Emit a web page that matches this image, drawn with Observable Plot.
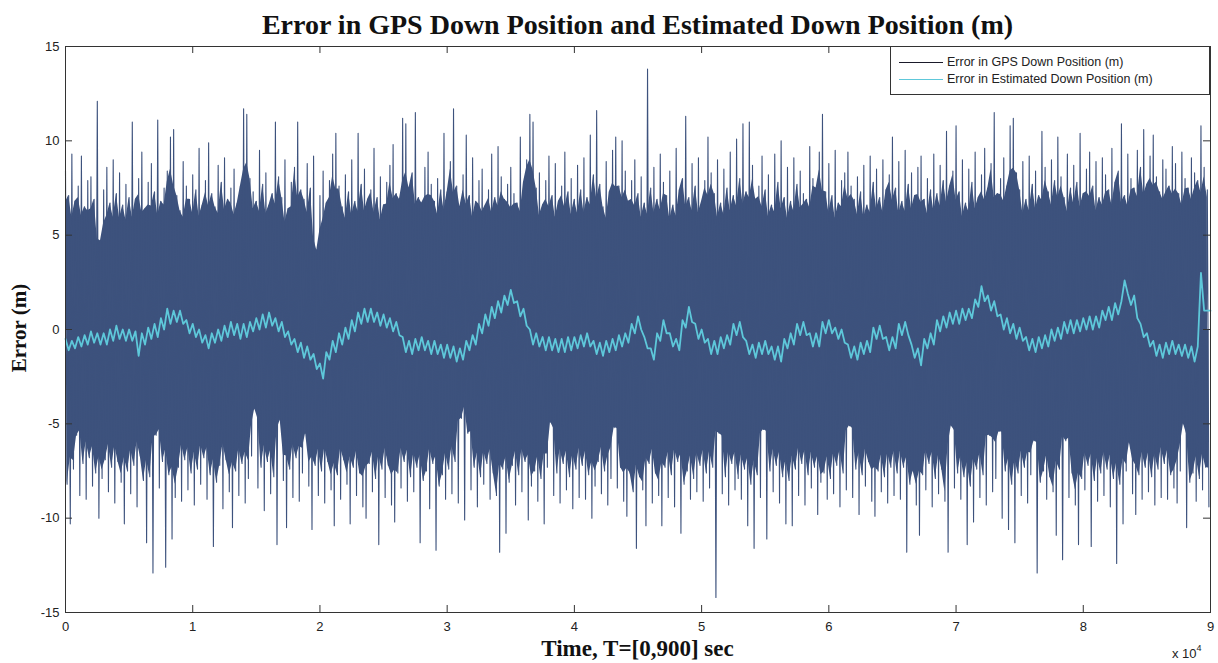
<!DOCTYPE html>
<html><head><meta charset="utf-8">
<script src="https://cdn.jsdelivr.net/npm/d3@7"></script>
<script src="https://cdn.jsdelivr.net/npm/@observablehq/plot@0.6"></script>
<style>
body{margin:0;background:#fff;}
#wrap{position:relative;width:1218px;height:663px;overflow:hidden;background:#fff;}
#wrap svg{position:absolute;left:0;top:0;}
.title{position:absolute;left:65px;width:1145px;top:9px;line-height:1;text-align:center;font:bold 28px "Liberation Serif","Times New Roman",serif;color:#111;white-space:nowrap;}
.xlab{position:absolute;left:65px;width:1145px;top:636px;line-height:1;text-align:center;font:bold 23px "Liberation Serif","Times New Roman",serif;color:#111;white-space:nowrap;}
.ylab{position:absolute;left:19px;top:328px;line-height:1;transform:translate(-50%,-50%) rotate(-90deg);font:bold 21px "Liberation Serif","Times New Roman",serif;white-space:nowrap;color:#111;}
.exp{position:absolute;left:1172px;top:645px;line-height:1;font:13px "Liberation Sans",Arial,sans-serif;color:#222;white-space:nowrap;}
.exp sup{font-size:9px;position:relative;top:-2px;}
.legend{position:absolute;left:890px;top:46px;width:320px;height:49px;border:1px solid #333;background:#fff;box-sizing:border-box;font:12.5px "Liberation Sans",Arial,sans-serif;color:#222;}
.legend .row{position:absolute;left:8px;height:14px;line-height:14px;white-space:nowrap;}
.legend .ln{display:inline-block;width:44px;height:0;border-top-width:1.5px;border-top-style:solid;vertical-align:middle;margin-right:4px;}
</style></head>
<body>
<div id="wrap"></div>
<script>
// ---- data ----
const xTicks = [0, 10000, 20000, 30000, 40000, 50000, 60000, 70000, 80000, 90000];
const yTicks = [-15, -10, -5, 0, 5, 10, 15];
const seriesNames = ["Error in GPS Down Position (m)", "Error in Estimated Down Position (m)"];
const titleText = "Error in GPS Down Position and Estimated Down Position (m)";
const xLabel = "Time, T=[0,900] sec";
const yLabel = "Error (m)";
const windowStep = 250; // samples per envelope window

// GPS error: local maxima per 250-sample window
const gpsHigh = [
 8.4,7.1,9.3,6.8,7.6,9.2,6.5,7.9,8.1,6.9,12.1,4.7,7.4,8.6,6.7,9.0,7.2,8.3,6.6,7.7,
 7.0,11.0,6.9,8.0,9.4,6.4,7.8,8.8,7.3,11.1,6.8,7.5,8.4,10.2,10.6,7.1,6.3,8.9,7.6,6.9,
 8.2,7.4,9.6,6.6,7.9,9.9,7.2,6.5,8.7,7.8,9.1,6.9,7.5,8.5,6.7,7.6,11.7,11.4,8.0,7.3,
 6.8,9.5,7.7,8.3,6.6,7.2,11.0,8.1,7.0,9.0,6.4,7.8,8.6,11.0,7.4,6.9,8.8,7.5,9.2,4.2,
 7.1,8.4,6.7,7.9,9.3,10.4,7.6,6.5,8.2,7.3,9.0,6.8,10.4,7.7,8.5,6.9,7.4,9.6,7.0,8.1,
 6.6,7.8,8.7,9.8,7.2,6.9,11.2,10.9,7.5,8.3,11.5,7.0,6.7,8.6,9.4,7.7,6.8,8.0,7.4,10.4,
 7.3,8.9,11.7,7.6,6.5,8.2,10.3,7.1,9.1,6.8,7.9,8.5,6.6,7.4,9.3,7.0,9.7,8.1,6.9,7.7,
 8.6,7.2,6.7,10.2,7.8,9.0,11.4,11.0,7.5,8.3,6.6,7.9,9.2,7.1,8.8,6.8,7.6,9.4,7.3,8.0,
 6.9,8.7,7.4,9.1,7.0,10.3,8.2,11.6,7.7,6.5,8.9,7.3,9.5,10.2,7.6,10.0,8.4,6.8,7.9,9.0,
 7.2,8.1,6.7,13.8,7.5,8.6,6.9,9.3,7.8,7.1,8.4,6.6,9.6,7.4,8.0,11.3,7.0,8.8,7.6,9.1,
 6.8,7.9,10.2,8.3,7.2,9.0,6.7,8.5,7.5,9.4,7.1,10.1,8.0,10.9,7.3,11.0,8.7,6.9,7.6,9.2,
 7.4,8.2,6.6,9.3,7.8,10.0,7.0,8.6,6.8,9.1,7.7,8.4,7.2,6.9,9.7,8.0,7.5,9.4,11.4,7.3,
 8.8,7.1,9.5,6.7,7.9,8.3,9.4,7.6,6.9,8.1,7.3,8.7,6.6,9.2,7.8,8.5,7.0,9.0,7.4,8.2,
 10.2,7.5,8.9,6.8,9.5,7.7,8.3,7.1,8.6,9.2,6.9,8.0,7.4,9.3,7.2,8.7,7.9,10.5,7.6,8.4,
 10.8,7.3,9.0,6.7,8.5,7.8,9.4,7.0,8.2,9.6,7.5,8.8,11.5,7.2,8.0,9.1,7.6,10.8,11.2,8.3,
 7.4,8.9,6.9,9.2,7.7,8.4,7.1,10.5,8.6,7.3,9.0,7.9,10.2,8.1,7.0,9.3,7.5,8.7,7.8,10.4,
 7.2,8.5,9.4,7.6,8.9,7.0,9.1,8.2,7.4,9.6,7.8,8.4,10.9,7.1,9.3,8.0,7.5,9.5,8.6,10.6,
 7.7,9.2,10.3,8.1,7.3,9.0,8.5,7.6,9.7,8.8,7.2,9.4,8.0,7.5,9.1,8.3,7.9,10.8,8.6,7.4
];
// GPS error: local minima per 250-sample window
const gpsLow = [
 -8.2,-10.3,-7.4,-5.6,-8.8,-7.1,-9.0,-6.8,-8.3,-7.6,-10.0,-7.9,-6.9,-8.6,-7.3,-9.2,-7.0,-8.1,-10.3,-7.5,
 -8.7,-7.2,-9.4,-6.7,-8.0,-11.3,-7.8,-12.9,-5.6,-8.4,-7.0,-12.6,-7.7,-11.1,-8.9,-7.3,-9.1,-6.9,-8.5,-7.6,
 -9.3,-7.4,-8.2,-6.8,-9.0,-7.7,-11.5,-8.1,-7.2,-9.5,-6.9,-8.6,-10.5,-7.5,-8.8,-7.1,-9.2,-7.9,-6.7,-4.2,
 -8.4,-7.3,-9.6,-7.0,-8.7,-7.8,-11.4,-4.8,-8.0,-10.5,-7.4,-8.9,-6.8,-9.1,-7.6,-5.5,-8.3,-10.6,-7.2,-8.8,
 -7.5,-9.2,-7.0,-8.5,-10.4,-7.7,-9.0,-6.9,-8.2,-10.3,-7.3,-8.8,-7.6,-9.4,-10.0,-7.1,-8.6,-7.9,-11.4,-7.4,
 -8.9,-7.2,-9.3,-10.2,-7.6,-8.4,-7.0,-9.1,-7.8,-8.6,-7.3,-11.3,-8.0,-7.5,-9.5,-7.1,-11.7,-8.3,-7.7,-9.0,
 -7.4,-8.7,-7.0,-9.2,-4.7,-10.1,-5.5,-8.5,-7.3,-9.4,-7.8,-8.2,-7.1,-9.0,-7.6,-8.8,-11.8,-7.4,-10.8,-8.1,
 -7.2,-9.3,-7.7,-8.6,-7.0,-10.1,-8.3,-7.5,-9.1,-7.9,-10.3,-7.3,-4.9,-8.8,-7.6,-9.2,-7.1,-8.5,-7.8,-9.5,
 -7.4,-8.9,-7.2,-9.0,-7.7,-10.0,-8.3,-7.0,-8.7,-7.5,-9.3,-7.9,-5.2,-8.4,-7.3,-9.1,-9.9,-7.6,-8.6,-11.6,
 -7.8,-8.5,-10.4,-7.1,-9.2,-7.6,-8.8,-10.4,-7.3,-8.9,-7.7,-9.4,-7.0,-10.8,-8.2,-7.5,-9.0,-7.9,-8.6,-7.2,
 -9.1,-7.6,-8.4,-7.3,-14.2,-5.5,-8.7,-7.8,-9.3,-7.1,-8.5,-7.9,-9.0,-7.4,-10.4,-8.2,-11.6,-7.7,-8.9,-5.3,
 -11.1,-7.5,-8.6,-7.2,-9.2,-7.8,-10.3,-8.0,-10.4,-7.4,-8.8,-7.1,-9.3,-7.7,-8.4,-7.3,-9.8,-8.1,-7.6,-9.0,
 -7.9,-8.7,-7.2,-9.4,-7.6,-8.5,-5.1,-8.9,-7.4,-9.8,-7.7,-8.3,-7.0,-9.1,-9.9,-7.5,-8.6,-7.8,-9.2,-7.3,
 -8.8,-7.6,-9.0,-7.3,-11.8,-8.2,-7.5,-9.3,-10.9,-7.7,-8.5,-7.1,-9.4,-7.9,-8.7,-7.4,-9.1,-11.8,-5.1,-8.4,
 -7.6,-9.0,-7.8,-11.4,-8.3,-10.2,-7.4,-8.9,-7.7,-9.3,-5.6,-8.6,-7.9,-5.4,-10.0,-7.5,-10.6,-8.2,-11.3,-7.6,
 -8.8,-7.3,-9.2,-7.7,-5.9,-12.9,-8.1,-7.5,-9.0,-7.8,-8.6,-10.9,-7.4,-12.2,-5.9,-8.9,-7.6,-9.3,-11.4,-7.9,
 -8.5,-7.2,-11.5,-8.0,-9.1,-7.6,-8.8,-7.4,-9.4,-7.9,-12.4,-8.2,-10.3,-7.5,-6.0,-8.7,-9.8,-7.7,-9.0,-7.3,
 -8.6,-7.8,-9.3,-7.4,-8.9,-7.1,-9.0,-7.7,-8.4,-9.2,-7.5,-5.0,-10.5,-8.1,-7.6,-9.1,-7.9,-8.5,-7.3,-9.4
];
// Estimated error, one value every 250 samples (0 .. 90000)
const estValues = [
 -0.5,-1.1,-0.6,-1.0,-0.4,-0.9,-0.3,-0.8,-0.1,-0.7,-0.2,-0.8,-0.2,-0.8,0.0,-0.6,0.2,-0.5,0.0,-0.6,0.0,-0.6,-0.1,-1.4,-0.2,-0.8,0.1,-0.5,0.3,-0.4,0.6,0.0,1.1,0.3,1.0,0.4,1.0,0.3,0.5,-0.2,
 0.3,-0.4,0.0,-0.7,-0.3,-1.0,-0.2,-0.7,0.0,-0.6,0.2,-0.4,0.4,-0.3,0.3,-0.5,0.3,-0.4,0.4,-0.1,0.6,0.0,0.8,0.1,0.9,0.2,0.6,-0.1,0.4,-0.4,-0.1,-0.8,-0.5,-1.2,-0.7,-1.5,-0.9,-1.6,-1.3,-2.1,
 -1.8,-2.6,-1.2,-1.6,-0.6,-1.2,-0.2,-0.8,0.1,-0.5,0.5,-0.1,0.9,0.3,1.1,0.4,1.1,0.4,0.9,0.2,0.8,0.1,0.6,-0.1,0.4,-0.3,-0.4,-1.2,-0.6,-1.3,-0.5,-1.1,-0.4,-1.1,-0.6,-1.3,-0.6,-1.3,-0.8,-1.5,
 -0.8,-1.5,-0.9,-1.7,-1.0,-1.6,-0.6,-1.1,-0.3,-0.8,0.3,-0.2,0.8,0.2,1.2,0.6,1.5,0.9,1.8,1.3,2.1,1.4,1.5,0.7,1.1,0.2,0.0,-0.8,-0.2,-0.9,-0.4,-1.1,-0.4,-1.1,-0.5,-1.2,-0.5,-1.2,-0.4,-1.1,
 -0.4,-1.0,-0.3,-0.9,-0.2,-0.9,-0.6,-1.3,-0.7,-1.4,-0.6,-1.2,-0.5,-1.1,-0.3,-0.9,-0.2,-0.7,0.3,-0.2,0.7,0.0,-0.4,-1.0,-1.0,-1.6,-0.2,-0.6,0.5,-0.2,-0.2,-0.9,-0.5,-1.1,0.5,0.1,1.2,0.4,0.3,-0.5,
 0.0,-0.7,-0.5,-1.3,-0.6,-1.3,-0.4,-1.0,-0.3,-0.8,0.3,-0.3,0.4,-0.4,-0.6,-1.3,-0.8,-1.5,-0.7,-1.3,-0.6,-1.3,-0.9,-1.6,-0.9,-1.7,-0.5,-1.0,-0.2,-0.8,0.3,-0.3,0.4,-0.3,-0.2,-0.9,-0.2,-0.9,0.4,-0.2,
 0.5,-0.2,0.1,-0.5,0.0,-0.7,-0.8,-1.5,-0.9,-1.6,-0.7,-1.3,-0.6,-1.2,0.1,-0.5,0.2,-0.5,-0.4,-1.1,-0.4,-1.0,0.3,-0.3,0.4,-0.3,-0.8,-1.5,-1.0,-1.9,-0.5,-1.0,-0.2,-0.8,0.5,-0.1,0.7,0.1,0.9,0.3,
 1.0,0.3,1.1,0.5,1.1,0.6,1.6,1.2,2.3,1.5,1.8,1.0,1.5,0.7,0.8,0.0,0.6,-0.2,0.3,-0.5,0.1,-0.6,-0.4,-1.1,-0.5,-1.2,-0.4,-1.0,-0.3,-0.9,0.0,-0.6,0.1,-0.5,0.4,-0.2,0.5,-0.2,0.5,-0.1,
 0.6,0.0,0.7,0.0,0.7,0.1,1.0,0.5,1.2,0.5,1.4,0.8,1.5,2.6,1.9,1.3,1.8,0.6,0.3,-0.4,-0.2,-0.9,-0.6,-1.4,-0.8,-1.5,-0.7,-1.3,-0.6,-1.3,-0.8,-1.4,-0.8,-1.5,-0.9,-1.7,
 -0.9,3.0,1.0,1.0,1.0
];
const gpsColor = "#3d527d";
const gpsLegendColor = "#1a1a2a";
const estColor = "#5ec8da";
const coreInset = 1.0; // how far inside the neighbouring excursions the trace is solid (m)

// ---- build tables ----
const gps = [];
gpsHigh.forEach((h, i) => {
  gps.push({t: i * windowStep, v: h});
  gps.push({t: i * windowStep + windowStep / 2, v: gpsLow[i]});
});
const nb = (arr, i) => [arr[Math.max(0, i - 1)], arr[Math.min(arr.length - 1, i + 1)]];
const coreTop = gpsHigh.map((h, i) => ({
  t: i * windowStep,
  top: Math.min(h, d3.mean(nb(gpsHigh, i)) - coreInset)
}));
const coreBot = gpsLow.map((l, i) => ({
  t: i * windowStep + windowStep / 2,
  bot: Math.max(l, d3.mean(nb(gpsLow, i)) + coreInset)
}));
const est = estValues.map((v, i) => ({t: i * windowStep, v}));

const W = 1218, H = 663, mT = 46, mB = 51, mL = 65, mR = 8;
const plotW = W - mL - mR, plotH = H - mT - mB;
const tickLen = 7;

const chart = Plot.plot({
  width: W, height: H,
  marginTop: mT, marginBottom: mB, marginLeft: mL, marginRight: mR,
  style: {fontFamily: '"Liberation Sans", Arial, sans-serif', fontSize: "13px", color: "#222", background: "white"},
  x: {domain: [0, 90000], label: null},
  y: {domain: [-15, 15], label: null},
  marks: [
    Plot.areaY(coreTop, {x: "t", y1: 0, y2: "top", fill: gpsColor}),
    Plot.areaY(coreBot, {x: "t", y1: "bot", y2: 0, fill: gpsColor}),
    Plot.line(gps, {x: "t", y: "v", stroke: gpsColor, strokeWidth: 1.1}),
    Plot.line(est, {x: "t", y: "v", stroke: estColor, strokeWidth: 1.8}),
    Plot.frame({stroke: "#333", strokeWidth: 1}),
    Plot.tickX(xTicks, {x: d => d, insetTop: plotH - tickLen, stroke: "#333"}),
    Plot.tickX(xTicks, {x: d => d, insetBottom: plotH - tickLen, stroke: "#333"}),
    Plot.tickY(yTicks, {y: d => d, insetRight: plotW - tickLen, stroke: "#333"}),
    Plot.tickY(yTicks, {y: d => d, insetLeft: plotW - tickLen, stroke: "#333"}),
    Plot.axisX(xTicks, {tickSize: 0, tickPadding: 9, tickFormat: d => String(d / 1e4), label: null, fontSize: 13}),
    Plot.axisY(yTicks, {tickSize: 0, tickPadding: 6, tickFormat: d => String(d), label: null, fontSize: 13})
  ]
});

const wrap = document.getElementById("wrap");
wrap.appendChild(chart);

function addDiv(cls, html) {
  const d = document.createElement("div");
  d.className = cls;
  d.innerHTML = html;
  wrap.appendChild(d);
  return d;
}
addDiv("title", titleText);
addDiv("xlab", xLabel);
addDiv("ylab", yLabel);
addDiv("exp", "x 10<sup>4</sup>");
const lg = addDiv("legend", "");
[[gpsLegendColor, 0], [estColor, 1]].forEach(([c, k]) => {
  const r = document.createElement("div");
  r.className = "row";
  r.style.top = (k === 0 ? 8 : 25) + "px";
  r.innerHTML = `<span class="ln" style="border-top-color:${c}"></span>${seriesNames[k]}`;
  lg.appendChild(r);
});
</script>
</body></html>
